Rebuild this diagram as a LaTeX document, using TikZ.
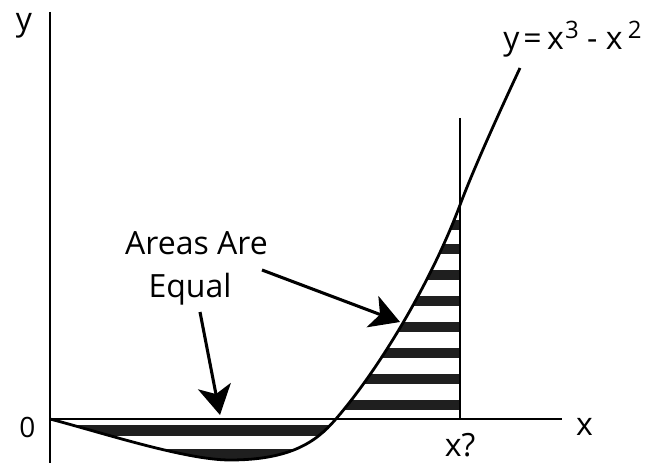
\documentclass[tikz,border=0pt]{standalone}
\usepackage{fontspec}
\setmainfont{Open Sans}
\usetikzlibrary{arrows.meta}
\newcommand\raisedigit[1]{\raisebox{8.8pt}{\fontsize{18pt}{18pt}\selectfont #1}}
\begin{document}
\begin{tikzpicture}[x=0.75pt,y=-0.75pt,
  axisline/.style={line width=2.2pt},
  curveline/.style={line width=2.1pt},
  pointer/.style={line width=2.3pt,-{Stealth[length=22pt,width=25pt,inset=6pt]}},
  lbl/.style={font=\fontsize{24pt}{32pt}\selectfont, inner sep=0pt},
  band/.style={fill=black!88}]
\useasboundingbox (0,0) rectangle (671,463);
\def\curvepart{(50,419) .. controls (100,432) and (185,460) .. (230,460)
  .. controls (290,460) and (316,442) .. (335,420)
  .. controls (377,372) and (430,285) .. (460,205)}
% hatching
\begin{scope}
  \clip \curvepart -- (460,419) -- cycle;
  \foreach \c in {225,249.5,275,301,326.7,352.5,379,405}
    \fill[band] (300,\c-5) rectangle (470,\c+5);
  \fill[band] (40,425) rectangle (345,436);
  \fill[band] (40,449) rectangle (345,470);
\end{scope}
% axes
\coordinate (O) at (50,419);
\coordinate (ytop) at (50,12);
\coordinate (ybot) at (50,463);
\coordinate (xend) at (562,419);
\coordinate (vtop) at (460,118);
\coordinate (vbot) at (460,419);
\draw[axisline] (ytop) -- (ybot);
\draw[axisline] (O) -- (xend);
\draw[axisline] (vtop) -- (vbot);
% curve
\draw[curveline] \curvepart .. controls (475,165) and (505,100) .. (520,68);
% labels
\node[lbl, anchor=base] (ylab) at (24,31) {y};
\node[lbl, anchor=base, font=\fontsize{21pt}{24pt}\selectfont] (zero) at (27.5,437) {0};
\node[lbl, anchor=base] (xlab) at (584.5,435) {x};
\node[lbl, anchor=base] (xq) at (460,456) {x?};
\node[lbl, anchor=base west] (eq) at (503,50) {y\kern3pt=\kern4pt x\kern1pt\raisedigit{3} - x\kern4pt\raisedigit{2}};
\node[lbl, anchor=base] (areas1) at (196.5,255) {Areas Are};
\node[lbl, anchor=base] (areas2) at (190,298) {Equal};
% arrows
\coordinate (a1s) at (262,270);
\coordinate (a1t) at (400,322);
\coordinate (a2s) at (200,312);
\coordinate (a2t) at (220,415);
\draw[pointer] (a1s) -- (a1t);
\draw[pointer] (a2s) -- (a2t);
\end{tikzpicture}
\end{document}
